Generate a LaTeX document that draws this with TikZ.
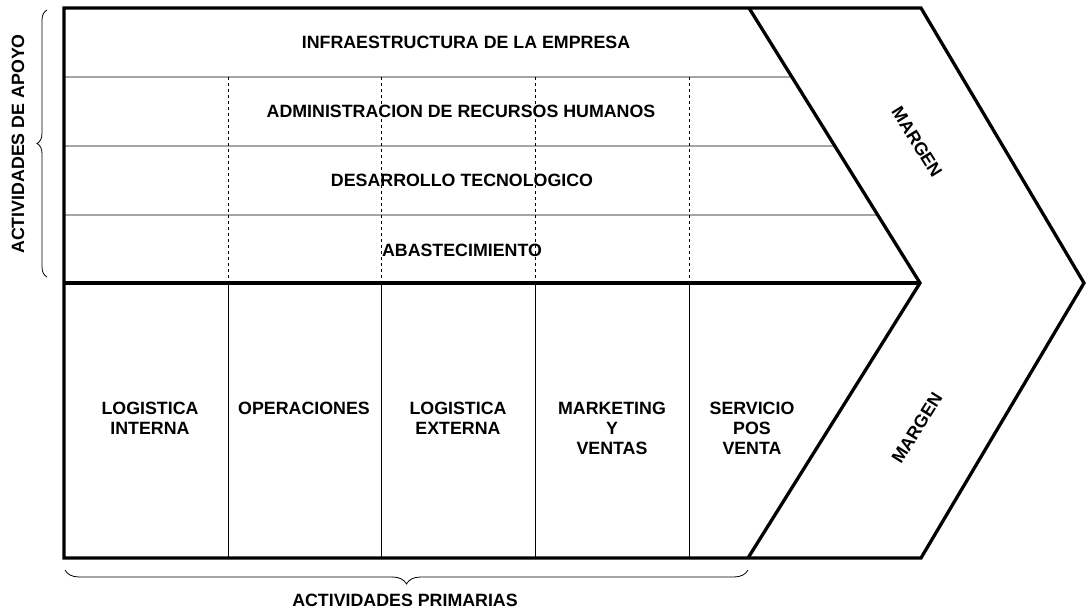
\documentclass[tikz,border=0pt]{standalone}
\usepackage{fontspec}
\setmainfont{Liberation Sans}
\usetikzlibrary{calc,decorations.pathreplacing}

\begin{document}
\begin{tikzpicture}[x=1pt, y=-1pt,
every node/.style={font=\fontsize{17.8}{20}\selectfont\bfseries, align=center, inner sep=0pt},
frameline/.style={line width=3.3pt, line join=miter},
cellline/.style={line width=0.9pt},
dashline/.style={line width=0.9pt, dash pattern=on 3pt off 3pt},
bracket/.style={decorate, line width=0.8pt}]

\useasboundingbox (0,0) rectangle (1088,615);

% corners of the chain
\coordinate (tl) at (64,8);
\coordinate (tr) at (921,8);
\coordinate (tip) at (1084,283);
\coordinate (br) at (921,558);
\coordinate (bl) at (64,558);
\coordinate (ml) at (64,283);
\coordinate (itop) at (749,8);
\coordinate (itip) at (920,283);
\coordinate (ibot) at (748,558);

% support rows and columns
\foreach \y in {77,146,215}
  \draw[cellline] (64,\y) -- ($(itop)!{(\y-8)/275}!(itip)$);
\foreach \x in {228,381,535,689} {
  \draw[dashline] (\x,77) -- (\x,283);
  \draw[cellline] (\x,283) -- (\x,558);
}

% frame
\draw[frameline] (tl) -- (tr) -- (tip) -- (br) -- (bl) -- cycle;
\draw[frameline] (itop) -- (itip) -- (ibot);
\draw[frameline] (ml) -- (itip);

% braces
\draw[bracket, decoration={brace, amplitude=10pt}] (47,277) -- (47,10);
\draw[bracket, decoration={brace, mirror, amplitude=14pt}] (65,570) -- (748,570);

\node (apoyo) [rotate=90] at (18,144) {ACTIVIDADES DE APOYO};
\node (primarias) at (405,600) {ACTIVIDADES PRIMARIAS};

\node (infra) at (466,42) {INFRAESTRUCTURA DE LA EMPRESA};
\node (rrhh) at (461,111) {ADMINISTRACION DE RECURSOS HUMANOS};
\node (tecno) at (462,180) {DESARROLLO TECNOLOGICO};
\node (abast) at (462,250) {ABASTECIMIENTO};

\node (login) at (150,418) {LOGISTICA\\INTERNA};
\node (oper) at (304,408) {OPERACIONES};
\node (logex) at (458,418) {LOGISTICA\\EXTERNA};
\node (mkt) at (612,428) {MARKETING\\Y\\VENTAS};
\node (serv) at (752,428) {SERVICIO\\POS\\VENTA};

\node (margen1) [rotate=-58] at (917,142) {MARGEN};
\node (margen2) [rotate=58] at (917,428) {MARGEN};

\end{tikzpicture}
\end{document}
